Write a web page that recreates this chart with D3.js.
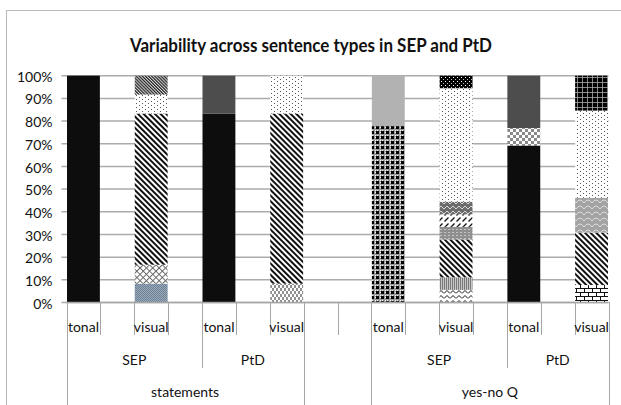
<!DOCTYPE html>
<html>
<head>
<meta charset="utf-8">
<script src="https://cdn.jsdelivr.net/npm/d3@7/dist/d3.min.js"></script>
<style>
  body { margin: 0; background: #fff; }
  svg { display: block; }
  text { font-family: Lato, 'Noto Sans', sans-serif; fill: #111; }
</style>
</head>
<body>
<div id="chart"></div>
<script>
const chartTitle = 'Variability across sentence types in SEP and PtD';

// one slot per category position on the axis, blank slots are spacers
const slotLabels = ['tonal', '', 'visual', '', 'tonal', '', 'visual', '', '',
  'tonal', '', 'visual', '', 'tonal', '', 'visual'];
const speakerGroups = [['SEP', 0, 4], ['PtD', 4, 7], ['', 7, 9], ['SEP', 9, 13], ['PtD', 13, 16]];
const typeGroups = [['statements', 0, 7], ['', 7, 9], ['yes-no Q', 9, 16]];
const yTicks = [0, 10, 20, 30, 40, 50, 60, 70, 80, 90, 100];

// stacked shares (%), bottom to top
const barSlots = [0, 2, 4, 6, 9, 11, 13, 15];
const stSepTonal = [100];
const stSepVisual = [8.33, 8.33, 66.67, 8.33, 8.33];
const stPtdTonal = [83.33, 16.67];
const stPtdVisual = [8.33, 75, 16.67];
const qSepTonal = [77.78, 22.22];
const qSepVisual = [5.56, 5.56, 16.67, 5.56, 5.56, 5.56, 50, 5.56];
const qPtdTonal = [69.23, 7.69, 23.08];
const qPtdVisual = [7.69, 23.08, 15.38, 38.46, 15.38];
const barValues = [stSepTonal, stSepVisual, stPtdTonal, stPtdVisual, qSepTonal, qSepVisual, qPtdTonal, qPtdVisual];

// fill pattern of each segment (same order)
const barFills = [
  ['solidBlack'],
  ['slate', 'diamond', 'wideDiag', 'dots', 'denseDiag'],
  ['solidBlack', 'darkGray'],
  ['vDash', 'wideDiag', 'dots'],
  ['bigCheck', 'lightGray'],
  ['wave', 'vStripe', 'wideDiag', 'grayDots', 'upDash', 'shingleDark', 'dots', 'blackDots'],
  ['solidBlack', 'smallCheck', 'darkGray'],
  ['brick', 'wideDiag', 'shingleGray', 'dots', 'blackGrid']
];

const width = 621, height = 405;
const plotLeft = 66.5, plotRight = 608.5, plotTop = 75.7, plotBottom = 302.5;

const svg = d3.select('#chart').append('svg')
  .attr('width', width).attr('height', height);
svg.append('rect').attr('width', width).attr('height', height).attr('fill', '#fff');

// chart border (only top and left are inside the picture)
svg.append('path')
  .attr('d', `M6.5,${height} V10.5 H${width}`)
  .attr('fill', 'none').attr('stroke', '#b8b8b8');

const defs = svg.append('defs');
function pattern(id, w, h, bg, draw, transform) {
  const p = defs.append('pattern').attr('id', id)
    .attr('patternUnits', 'userSpaceOnUse')
    .attr('width', w).attr('height', h);
  if (transform) p.attr('patternTransform', transform);
  p.append('rect').attr('width', w).attr('height', h).attr('fill', bg);
  if (draw) draw(p);
}
const rect = (p, x, y, w, h, c) => p.append('rect').attr('x', x).attr('y', y).attr('width', w).attr('height', h).attr('fill', c);
const line = (p, d, c, sw) => p.append('path').attr('d', d).attr('fill', 'none').attr('stroke', c).attr('stroke-width', sw);

pattern('solidBlack', 4, 4, '#0d0d0d');
pattern('darkGray', 4, 4, '#4d4d4d');
pattern('lightGray', 4, 4, '#b2b2b2');
pattern('wideDiag', 4, 4, '#fff', p => rect(p, 0, 0, 2, 4, '#111'), 'rotate(-45)');
pattern('denseDiag', 2.2, 2.2, '#ddd', p => rect(p, 0, 0, 1.2, 2.2, '#222'), 'rotate(-45)');
pattern('dots', 6, 4, '#fff', p => { rect(p, 1, 1, 1, 1, '#555'); rect(p, 4, 3, 1, 1, '#555'); });
pattern('slate', 2, 2, '#9aaabb', p => { rect(p, 0, 0, 1, 1, '#6d8195'); rect(p, 1, 1, 1, 1, '#6d8195'); });
pattern('diamond', 4.5, 4.5, '#fff', p => line(p, 'M0,0.5H4.5 M0.5,0V4.5', '#666', 1), 'rotate(45)');
pattern('vDash', 4, 6, '#fff', p => { rect(p, 0.5, 0, 1, 3, '#222'); rect(p, 2.5, 3, 1, 3, '#222'); });
pattern('bigCheck', 5, 5, '#9a9a9a', p => {
  rect(p, 1, 1, 3, 3, '#000'); rect(p, 0, 0, 1, 1, '#fff'); rect(p, 2, 0, 1, 1, '#eee'); rect(p, 0, 2, 1, 1, '#eee');
});
pattern('wave', 6, 5, '#fff', p => line(p, 'M0,3.5 L3,0.5 L6,3.5', '#111', 1));
pattern('vStripe', 2, 4, '#c8c8c8', p => rect(p, 0, 0, 1, 4, '#777'));
pattern('grayDots', 4, 3, '#8f8f8f', p => rect(p, 0, 1, 2, 1, '#c4c4c4'));
pattern('upDash', 6, 6, '#fff', p => line(p, 'M0.5,5.5 L4.5,1.5', '#111', 1.3));
pattern('shingleDark', 6, 5, '#6b6b6b', p => line(p, 'M0,4 L3,1 L6,4', '#d8d8d8', 1));
pattern('blackDots', 4, 4, '#000', p => { rect(p, 1, 1, 1, 1, '#fff'); rect(p, 3, 3, 1, 1, '#bbb'); });
pattern('smallCheck', 6, 6, '#fff', p => { rect(p, 0, 0, 3, 3, '#8a8a8a'); rect(p, 3, 3, 3, 3, '#8a8a8a'); });
pattern('brick', 8, 8, '#fff', p => line(p, 'M0,0.5H8 M0,4.5H8 M0.5,0.5V4.5 M4.5,4.5V8', '#111', 1));
pattern('shingleGray', 8, 6, '#a3a3a3', p => line(p, 'M0,5 Q4,-1 8,5', '#dcdcdc', 1));
pattern('blackGrid', 5, 5, '#000', p => line(p, 'M0,2.5H5 M2.5,0V5', '#aaa', 0.8));

const x = d3.scaleBand().domain(d3.range(slotLabels.length)).range([plotLeft, plotRight]);
const edge = i => i < slotLabels.length ? x(i) : plotRight;
const y = d3.scaleLinear().domain([0, 100]).range([plotBottom, plotTop]);

// title
svg.append('text')
  .attr('x', 311).attr('y', 52)
  .attr('text-anchor', 'middle')
  .attr('font-size', 18).attr('font-weight', 'bold')
  .attr('textLength', 362).attr('lengthAdjust', 'spacingAndGlyphs')
  .text(chartTitle);

// gridlines
svg.append('g').selectAll('line')
  .data(yTicks)
  .enter().append('line')
  .attr('x1', plotLeft - 5).attr('x2', plotRight)
  .attr('y1', d => y(d)).attr('y2', d => y(d))
  .attr('stroke', '#ababab').attr('stroke-width', 1.5);

// y axis labels
const yAxis = svg.append('g')
  .attr('transform', `translate(${plotLeft},0)`)
  .call(d3.axisLeft(y).tickValues(yTicks).tickFormat(d => d + '%').tickSize(0).tickPadding(14));
yAxis.select('.domain').remove();
yAxis.selectAll('text')
  .attr('font-family', null).attr('font-size', 14).attr('dy', '0.4em');

// stacked bars
barValues.forEach((vals, b) => {
  let acc = 0;
  const segs = vals.map((v, k) => {
    const s = { y0: acc, y1: acc + v, fill: barFills[b][k] };
    acc += v;
    return s;
  });
  svg.append('g').selectAll('rect')
    .data(segs)
    .enter().append('rect')
    .attr('x', x(barSlots[b]) + 0.5)
    .attr('width', x.bandwidth() - 1)
    .attr('y', d => y(Math.min(d.y1, 100)))
    .attr('height', d => y(d.y0) - y(Math.min(d.y1, 100)))
    .attr('fill', d => `url(#${d.fill})`);
});

// multi-level category axis
const axisColor = '#a6a6a6';
const cat = svg.append('g');
cat.append('line').attr('x1', plotLeft).attr('x2', plotRight).attr('y1', plotBottom).attr('y2', plotBottom)
  .attr('stroke', axisColor).attr('stroke-width', 1.5);

function level(bounds, yEnd) {
  cat.append('g').selectAll('line')
    .data(bounds)
    .enter().append('line')
    .attr('x1', d => Math.round(edge(d)) + 0.5).attr('x2', d => Math.round(edge(d)) + 0.5)
    .attr('y1', plotBottom).attr('y2', yEnd)
    .attr('stroke', axisColor);
}
level(d3.range(slotLabels.length + 1), 335);
level([0, 4, 7, 9, 13, 16], 368);
level([0, 7, 9, 16], height);

cat.append('g').selectAll('text')
  .data(slotLabels)
  .enter().append('text')
  .attr('x', (d, i) => x(i) + x.bandwidth() / 2)
  .attr('y', 331.5)
  .attr('text-anchor', 'middle').attr('font-size', 14)
  .text(d => d);

cat.append('g').selectAll('text')
  .data(speakerGroups)
  .enter().append('text')
  .attr('x', d => (edge(d[1]) + edge(d[2])) / 2)
  .attr('y', 365)
  .attr('text-anchor', 'middle').attr('font-size', 14)
  .text(d => d[0]);

cat.append('g').selectAll('text')
  .data(typeGroups)
  .enter().append('text')
  .attr('x', d => (edge(d[1]) + edge(d[2])) / 2)
  .attr('y', 397)
  .attr('text-anchor', 'middle').attr('font-size', 14)
  .text(d => d[0]);
</script>
</body>
</html>
